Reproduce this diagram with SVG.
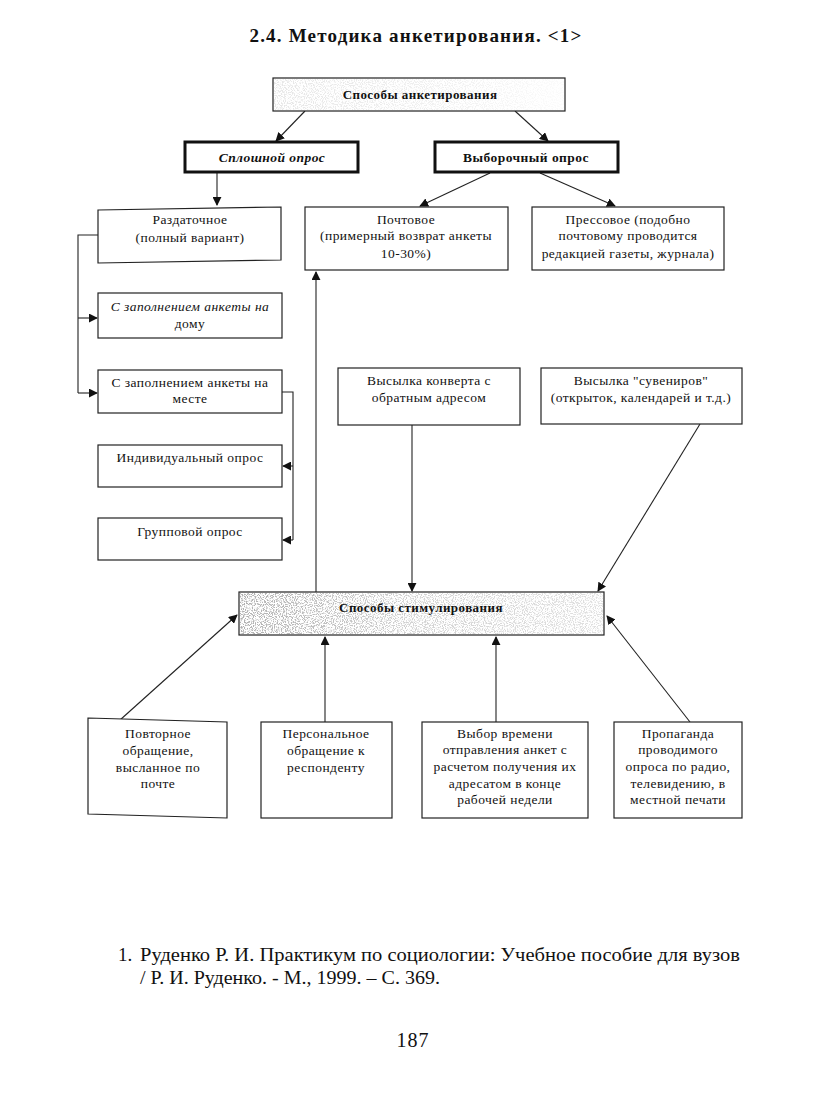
<svg xmlns="http://www.w3.org/2000/svg" width="823" height="1098" viewBox="0 0 823 1098">
<defs>
<style>
.t{font-family:"Liberation Serif","DejaVu Serif Condensed","DejaVu Serif",serif;font-size:13.5px;letter-spacing:0.45px;fill:#111;text-anchor:middle}
.b{font-weight:bold}
.i{font-style:italic}
.box{fill:#fff;stroke:#222;stroke-width:1.2}
.thick{fill:#fff;stroke:#111;stroke-width:3}
.ln{fill:none;stroke:#222;stroke-width:1.1}
</style>
<marker id="ah" viewBox="0 0 10 10" refX="9" refY="5" markerWidth="9" markerHeight="9" markerUnits="userSpaceOnUse" orient="auto">
<path d="M0,0 L10,5 L0,10 z" fill="#111"/>
</marker>
<filter id="noise" x="0" y="0" width="100%" height="100%">
<feTurbulence type="fractalNoise" baseFrequency="0.9" numOctaves="2" seed="3" result="n"/>
<feColorMatrix in="n" type="matrix" values="0 0 0 0 0.25  0 0 0 0 0.25  0 0 0 0 0.25  0 0 0 -6 3.2" result="s"/>
<feComposite in="s" in2="SourceGraphic" operator="in"/>
</filter>
<linearGradient id="fade" x1="0" y1="0" x2="1" y2="0">
<stop offset="0" stop-color="#000" stop-opacity="0.9"/>
<stop offset="0.5" stop-color="#000" stop-opacity="0.5"/>
<stop offset="1" stop-color="#000" stop-opacity="0.35"/>
</linearGradient>
<linearGradient id="fade2" x1="0" y1="0" x2="1" y2="0">
<stop offset="0" stop-color="#000" stop-opacity="0.6"/>
<stop offset="0.6" stop-color="#000" stop-opacity="0.35"/>
<stop offset="1" stop-color="#000" stop-opacity="0.1"/>
</linearGradient>
</defs>
<rect width="823" height="1098" fill="#fff"/>

<text x="416" y="42" class="t b" style="font-size:19px;letter-spacing:1.2px">2.4. Методика анкетирования. &lt;1&gt;</text>

<g id="connectors">
<line class="ln" x1="305" y1="111" x2="276" y2="141" marker-end="url(#ah)"/>
<line class="ln" x1="515" y1="111" x2="548" y2="141" marker-end="url(#ah)"/>
<line class="ln" x1="217" y1="173" x2="217" y2="205" marker-end="url(#ah)"/>
<line class="ln" x1="490" y1="173" x2="420" y2="206" marker-end="url(#ah)"/>
<line class="ln" x1="540" y1="173" x2="615" y2="206" marker-end="url(#ah)"/>
<polyline class="ln" points="98,235 78,235 78,393"/>
<line class="ln" x1="78" y1="318" x2="97" y2="318" marker-end="url(#ah)"/>
<line class="ln" x1="78" y1="393" x2="97" y2="393" marker-end="url(#ah)"/>
<polyline class="ln" points="282,392 293,392 293,540"/>
<line class="ln" x1="293" y1="466" x2="283" y2="466" marker-end="url(#ah)"/>
<line class="ln" x1="293" y1="540" x2="283" y2="540" marker-end="url(#ah)"/>
<line class="ln" x1="316" y1="592" x2="316" y2="272" marker-end="url(#ah)"/>
<line class="ln" x1="412" y1="425" x2="412" y2="591" marker-end="url(#ah)"/>
<line class="ln" x1="700" y1="424" x2="598" y2="591" marker-end="url(#ah)"/>
<line class="ln" x1="120" y1="720" x2="237" y2="615" marker-end="url(#ah)"/>
<line class="ln" x1="325" y1="722" x2="325" y2="637" marker-end="url(#ah)"/>
<line class="ln" x1="496" y1="722" x2="496" y2="637" marker-end="url(#ah)"/>
<line class="ln" x1="690" y1="722" x2="607" y2="616" marker-end="url(#ah)"/>
</g>

<g id="n-sposoby-ank">
<rect class="box" x="273" y="78" width="292" height="33"/>
<rect x="274" y="79" width="290" height="31" fill="url(#fade2)" filter="url(#noise)" opacity="0.35"/>
<text x="420" y="99" class="t b" style="font-size:13px">Способы анкетирования</text>
</g>

<g id="n-sploshnoy">
<rect class="thick" x="185" y="142" width="173" height="30"/>
<text x="272" y="162" class="t b i">Сплошной опрос</text>
</g>

<g id="n-vyborochny">
<rect class="thick" x="435" y="142" width="183" height="30"/>
<text x="526" y="162" class="t b">Выборочный опрос</text>
</g>

<g id="n-razdatochnoe">
<polygon class="box" points="98,210 281,207 281,260 98,263"/>
<text x="190" y="224" class="t">Раздаточное</text>
<text x="190" y="242" class="t">(полный вариант)</text>
</g>

<g id="n-pochtovoe">
<rect class="box" x="305" y="207" width="203" height="63"/>
<text x="406" y="224" class="t">Почтовое</text>
<text x="406" y="240" class="t">(примерный возврат анкеты</text>
<text x="406" y="258" class="t">10-30%)</text>
</g>

<g id="n-pressovoe">
<rect class="box" x="532" y="207" width="192" height="63"/>
<text x="628" y="224" class="t">Прессовое (подобно</text>
<text x="628" y="240" class="t">почтовому проводится</text>
<text x="628" y="258" class="t">редакцией газеты, журнала)</text>
</g>

<g id="n-doma">
<rect class="box" x="98" y="293" width="184" height="45"/>
<text x="190" y="311" class="t i">С заполнением анкеты на</text>
<text x="190" y="328" class="t">дому</text>
</g>

<g id="n-meste">
<rect class="box" x="98" y="370" width="184" height="43"/>
<text x="190" y="387" class="t">С заполнением анкеты на</text>
<text x="190" y="403" class="t">месте</text>
</g>

<g id="n-individ">
<rect class="box" x="98" y="445" width="184" height="42"/>
<text x="190" y="462" class="t">Индивидуальный опрос</text>
</g>

<g id="n-grupp">
<rect class="box" x="98" y="518" width="184" height="42"/>
<text x="190" y="536" class="t">Групповой опрос</text>
</g>

<g id="n-konvert">
<rect class="box" x="338" y="368" width="182" height="57"/>
<text x="429" y="385" class="t">Высылка конверта с</text>
<text x="429" y="402" class="t">обратным адресом</text>
</g>

<g id="n-suveniry">
<rect class="box" x="541" y="368" width="201" height="56"/>
<text x="641" y="385" class="t">Высылка "сувениров"</text>
<text x="641" y="402" class="t">(открыток, календарей и т.д.)</text>
</g>

<g id="n-stimul">
<rect class="box" x="239" y="592" width="365" height="43"/>
<rect x="240" y="593" width="363" height="41" fill="url(#fade)" filter="url(#noise)" opacity="0.75"/>
<text x="421" y="612" class="t b" style="font-size:13px">Способы стимулирования</text>
</g>

<g id="n-povtornoe">
<polygon class="box" points="88,718 227,722 227,818 88,814"/>
<text x="158" y="738" class="t">Повторное</text>
<text x="158" y="755" class="t">обращение,</text>
<text x="158" y="772" class="t">высланное по</text>
<text x="158" y="788" class="t">почте</text>
</g>

<g id="n-personalnoe">
<rect class="box" x="261" y="722" width="131" height="96"/>
<text x="326" y="738" class="t">Персональное</text>
<text x="326" y="755" class="t">обращение к</text>
<text x="326" y="772" class="t">респонденту</text>
</g>

<g id="n-vybor">
<rect class="box" x="422" y="722" width="166" height="96"/>
<text x="505" y="738" class="t">Выбор времени</text>
<text x="505" y="754" class="t">отправления анкет с</text>
<text x="505" y="771" class="t">расчетом получения их</text>
<text x="505" y="788" class="t">адресатом в конце</text>
<text x="505" y="804" class="t">рабочей недели</text>
</g>

<g id="n-propaganda">
<rect class="box" x="614" y="722" width="128" height="96"/>
<text x="678" y="738" class="t">Пропаганда</text>
<text x="678" y="754" class="t">проводимого</text>
<text x="678" y="771" class="t">опроса по радио,</text>
<text x="678" y="788" class="t">телевидению, в</text>
<text x="678" y="804" class="t">местной печати</text>
</g>

<text x="118" y="961" class="t" style="font-size:19px;letter-spacing:0;text-anchor:start">1.</text>
<text x="140" y="961" class="t" style="font-size:19px;letter-spacing:0;text-anchor:start" textLength="600" lengthAdjust="spacingAndGlyphs">Руденко Р. И. Практикум по социологии: Учебное пособие для вузов</text>
<text x="140" y="984" class="t" style="font-size:19px;letter-spacing:0;text-anchor:start" textLength="300" lengthAdjust="spacingAndGlyphs">/ Р. И. Руденко. - М., 1999. – С. 369.</text>
<text x="413" y="1047" class="t" style="font-size:20px;letter-spacing:1px">187</text>
</svg>
